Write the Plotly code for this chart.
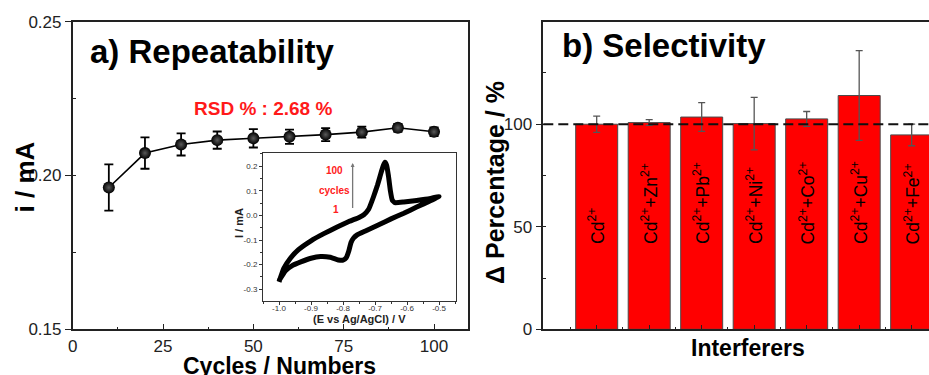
import plotly.graph_objects as go

W, H = 929, 375

# ---------------- data ----------------
cycles = [10, 20, 30, 40, 50, 60, 70, 80, 90, 100]
current = [0.1961, 0.2073, 0.2101, 0.2115, 0.2121, 0.2126, 0.2133, 0.2141, 0.2155, 0.2142]
current_err = [0.0075, 0.0051, 0.0036, 0.0028, 0.0030, 0.0023, 0.0021, 0.0018, 0.0013, 0.0014]

cv_E = [-1.000, -0.985, -0.965, -0.940, -0.900, -0.860, -0.820, -0.780, -0.750, -0.735,
        -0.720, -0.705, -0.692, -0.682, -0.674, -0.669, -0.664, -0.658, -0.652, -0.646,
        -0.638, -0.610, -0.570, -0.530, -0.500, -0.530, -0.570, -0.610, -0.650, -0.690,
        -0.730, -0.757, -0.767, -0.775, -0.782, -0.790, -0.800, -0.815, -0.840, -0.870,
        -0.900, -0.930, -0.960, -0.980, -1.000]
cv_I = [-0.270, -0.215, -0.175, -0.140, -0.103, -0.074, -0.048, -0.024, -0.008, 0.003,
        0.025, 0.075, 0.125, 0.170, 0.203, 0.216, 0.205, 0.160, 0.100, 0.062,
        0.052, 0.055, 0.061, 0.068, 0.077, 0.058, 0.034, 0.009, -0.014, -0.039,
        -0.063, -0.080, -0.092, -0.110, -0.145, -0.172, -0.182, -0.181, -0.170, -0.167,
        -0.174, -0.188, -0.205, -0.225, -0.265]

interferers = ["Cd<sup>2+</sup>", "Cd<sup>2+</sup>+Zn<sup>2+</sup>", "Cd<sup>2+</sup>+Pb<sup>2+</sup>",
               "Cd<sup>2+</sup>+Ni<sup>2+</sup>", "Cd<sup>2+</sup>+Co<sup>2+</sup>",
               "Cd<sup>2+</sup>+Cu<sup>2+</sup>", "Cd<sup>2+</sup>+Fe<sup>2+</sup>"]
bar_pos = [1, 2, 3, 4, 5, 6, 7]
percentage = [100.0, 100.8, 103.5, 100.3, 102.6, 114.0, 94.8]
percentage_err = [4.0, 1.4, 7.0, 12.8, 3.6, 21.9, 5.3]

left_yticks = [0.15, 0.20, 0.25]
left_xticks = [0, 25, 50, 75, 100]
right_yticks = [0, 50, 100]
inset_xticks = [-1.0, -0.9, -0.8, -0.7, -0.6, -0.5]
inset_yticks = [-0.3, -0.2, -0.1, 0.0, 0.1, 0.2]


def px(x):
    return x / W


def py(y):
    return 1 - y / H


FONT = "Liberation Sans, Arial, sans-serif"
AXC = "#222222"

fig = go.Figure()

# ---------- panel a ----------
fig.add_trace(go.Scatter(
    x=cycles, y=current, mode="lines+markers",
    line=dict(color="black", width=1.6),
    marker=dict(size=12, color="#000000",
                gradient=dict(type="radial", color="#5a5a5a"),
                line=dict(width=0)),
    error_y=dict(type="data", array=current_err, color="black", thickness=1.8, width=4.5),
    xaxis="x", yaxis="y", showlegend=False, cliponaxis=False))

# ---------- inset ----------
fig.add_trace(go.Scatter(
    x=cv_E, y=cv_I, mode="lines",
    line=dict(color="black", width=5, shape="spline", smoothing=0.3),
    xaxis="x3", yaxis="y3", showlegend=False))

# ---------- panel b ----------
fig.add_trace(go.Bar(
    x=bar_pos, y=percentage, width=0.8,
    marker=dict(color="#ff0000", line=dict(color="#4a4a4a", width=1)),
    error_y=dict(type="data", array=percentage_err, color="#555555", thickness=1.3, width=3.5),
    xaxis="x2", yaxis="y2", showlegend=False))

ydom = [py(329.3), py(21.7)]

common = dict(showline=True, linecolor=AXC, linewidth=1.6, showgrid=False, zeroline=False,
              automargin=False, tickfont=dict(family=FONT, size=17, color=AXC),
              tickcolor=AXC, tickwidth=1.4)

inset_common = dict(showline=True, linecolor="#333", linewidth=1, showgrid=False, zeroline=False,
                    automargin=False, tickmode="array", ticks="outside", ticklen=3,
                    tickcolor="#333", tickwidth=1, mirror=True,
                    tickfont=dict(family=FONT, size=8, color="#333"))

fig.update_layout(
    width=W, height=H, template="none",
    margin=dict(l=0, r=0, t=0, b=0),
    paper_bgcolor="white", plot_bgcolor="white",
    font=dict(family=FONT),
    xaxis=dict(domain=[px(72.7), px(468)], range=[0, 109.4], mirror=True,
               tickmode="array", tickvals=left_xticks, ticks="inside", ticklen=6,
               minor=dict(ticks="inside", ticklen=3, dtick=12.5, tick0=0, tickcolor=AXC),
               anchor="y", **common),
    yaxis=dict(domain=ydom, range=[0.15, 0.25], mirror=True,
               tickmode="array", tickvals=left_yticks, ticktext=["0.15", "0.20", "0.25"],
               ticks="outside", ticklen=6,
               minor=dict(ticks="inside", ticklen=3, dtick=0.025, tick0=0.15, tickcolor=AXC),
               anchor="x", **common),
    xaxis2=dict(domain=[px(543.3), 1.0], range=[-0.017, 7.33], mirror=True,
                tickmode="array", tickvals=bar_pos, showticklabels=False,
                ticks="inside", ticklen=5,
                minor=dict(ticks="inside", ticklen=3, dtick=1, tick0=0.5, tickcolor=AXC),
                anchor="y2", **common),
    yaxis2=dict(domain=ydom, range=[0, 150], mirror=False,
                tickmode="array", tickvals=right_yticks, ticks="outside", ticklen=6,
                minor=dict(ticks="inside", ticklen=3, dtick=25, tick0=0, tickcolor=AXC),
                anchor="x2", **common),
    xaxis3=dict(domain=[px(263), px(455.7)], range=[-1.05, -0.448],
                tickvals=inset_xticks,
                ticktext=["-1.0", "-0.9", "-0.8", "-0.7", "-0.6", "-0.5"],
                ticklabelstandoff=-4,
                minor=dict(ticks="outside", ticklen=2, dtick=0.05, tick0=-1.0, tickcolor="#333"),
                anchor="y3", **inset_common),
    yaxis3=dict(domain=[py(301), py(153)], range=[-0.348, 0.254],
                tickvals=inset_yticks,
                ticktext=["-0.3", "-0.2", "-0.1", "0.0", "0.1", "0.2"],
                minor=dict(ticks="outside", ticklen=2, dtick=0.05, tick0=0, tickcolor="#333"),
                anchor="x3", **inset_common),
)

# inset white background
fig.add_shape(type="rect", xref="x3 domain", yref="y3 domain", x0=0, x1=1, y0=0, y1=1,
              fillcolor="white", line=dict(width=0), layer="below")

# dashed reference line at 100 %
fig.add_shape(type="line", xref="x2 domain", yref="y2", x0=0, x1=1, y0=100, y1=100,
              line=dict(color="#111", width=2, dash="10px,5px"), layer="above")

ann = []


def txt(x, y, t, size, color="black", bold=True, angle=0, xa="center", ya="middle", **kw):
    if bold:
        t = "<b>" + t + "</b>"
    d = dict(x=x, y=y, xref="paper", yref="paper", text=t, showarrow=False,
             font=dict(family=FONT, size=size, color=color), textangle=angle,
             xanchor=xa, yanchor=ya)
    d.update(kw)
    ann.append(d)


txt(px(88), py(51), "a) Repeatability", 33, xa="left")
txt(px(560), py(45), "b) Selectivity", 33, xa="left")
txt(px(263), py(108.5), "RSD % : 2.68 %", 19, color="#ff1a1a")
txt(px(24), py(177.5), "i / mA", 26, angle=-90)
txt(px(494.4), py(182.5), "Δ Percentage / %", 25, angle=-90)
txt(px(279.5), py(365.5), "Cycles / Numbers", 23)
txt(px(748), py(348), "Interferers", 23)
# inset texts
txt(px(359), py(319), "(E vs Ag/AgCl) / V", 11, color="#222")
txt(px(239), py(223), "I / mA", 11, color="#222", angle=-90)
txt(px(334.7), py(170.7), "100", 10, color="#ff2020")
txt(px(334), py(190.3), "cycles", 10, color="#ff2020")
txt(px(336.3), py(209.7), "1", 10, color="#ff2020")

# arrow in inset
ann.append(dict(x=-0.770, y=0.213, ax=-0.770, ay=0.024, xref="x3", yref="y3",
                axref="x3", ayref="y3", text="", showarrow=True, arrowhead=2,
                arrowsize=0.6, arrowwidth=1.3, arrowcolor="#777"))

# labels inside bars
for p, lab in zip(bar_pos, interferers):
    ann.append(dict(x=p, y=40.5, xref="x2", yref="y2", text=lab, showarrow=False,
                    textangle=-90, xanchor="center", yanchor="bottom",
                    font=dict(family=FONT, size=17.5, color="black")))

fig.update_layout(annotations=ann)
fig.write_html("out.html")
